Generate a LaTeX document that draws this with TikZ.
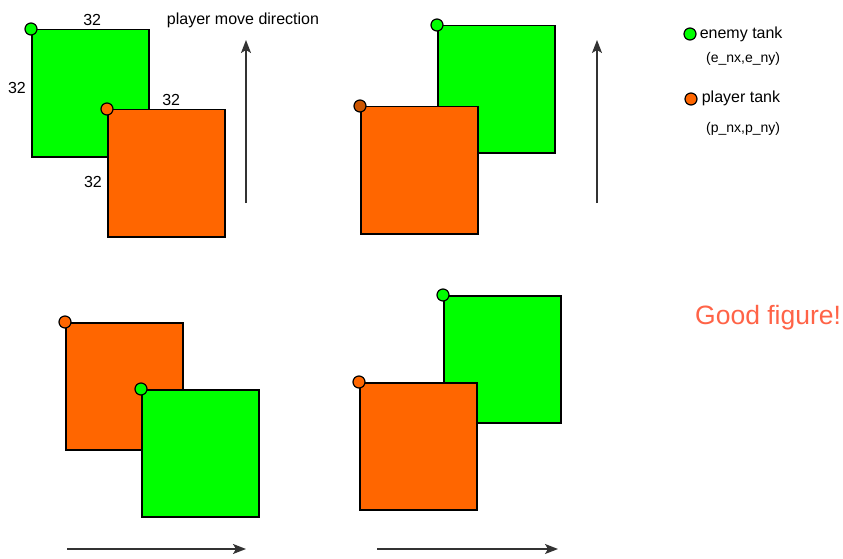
\documentclass[tikz,border=0pt]{standalone}
\usepackage{fontspec}
\setmainfont{Liberation Sans}
\usetikzlibrary{arrows.meta, positioning}
\definecolor{cEnemy}{HTML}{00FF00}
\definecolor{cPlayer}{HTML}{FF6600}
\definecolor{cPlayerDk}{HTML}{CC5500}
\definecolor{cGood}{HTML}{FF6347}

\begin{document}
\begin{tikzpicture}[x=1pt, y=-1pt,
  tank/.style={draw, line width=1.5pt, minimum width=117pt, minimum height=127pt, anchor=north west, inner sep=0pt},
  dot/.style={circle, draw, line width=1.2pt, minimum size=12pt, inner sep=0pt},
  lbl/.style={font=\fontsize{16}{18}\selectfont, inner sep=1pt},
  small/.style={font=\fontsize{14}{16}\selectfont, inner sep=1pt, anchor=west},
  arr/.style={-{Stealth[length=13pt, width=10pt, inset=3pt]}, line width=1.4pt, black!80}
]
\useasboundingbox (0,0) rectangle (843,559);

% top left
\node[tank, fill=cEnemy] (g1) at (31,29) {};
\node[tank, fill=cPlayer] (o1) at (107,109) {};
\node[dot, fill=cEnemy] (g1d) at (g1.north west) {};
\node[dot, fill=cPlayer] (o1d) at (o1.north west) {};
\node[lbl, above=2pt of g1.north, xshift=2pt] (w1) {32};
\node[lbl, left=4pt of g1.west, yshift=5pt] (h1) {32};
\node[lbl, above=2pt of o1.north, xshift=5pt] (w2) {32};
\node[lbl, left=4pt of o1.west, yshift=-9pt] (h2) {32};
\node[lbl] (dir) at (243,20) {player move direction};
\coordinate (u1a) at (246,203);
\coordinate (u1b) at (246,40);
\draw[arr] (u1a) -- (u1b);

% top right
\node[tank, fill=cEnemy] (g2) at (437,25) {};
\node[tank, fill=cPlayer] (o2) at (360,106) {};
\node[dot, fill=cEnemy] (g2d) at (g2.north west) {};
\node[dot, fill=cPlayerDk] (o2d) at (o2.north west) {};
\coordinate (u2a) at (597,203);
\coordinate (u2b) at (597,40);
\draw[arr] (u2a) -- (u2b);

% legend
\node[dot, fill=cEnemy] (le) at (690,34) {};
\node[lbl, anchor=west, right=2pt of le] (let) {enemy tank};
\node[small] (lec) at (705,59) {(e\_nx,e\_ny)};
\node[dot, fill=cPlayer] (lp) at (691,99) {};
\node[lbl, anchor=west, right=3pt of lp, yshift=1pt] (lpt) {player tank};
\node[small] (lpc) at (705,129) {(p\_nx,p\_ny)};

\node[font=\fontsize{26.5}{30}\selectfont, text=cGood, anchor=west, inner sep=0pt] (good) at (695,318) {Good figure!};

% bottom left
\node[tank, fill=cPlayer] (o3) at (65,322) {};
\node[tank, fill=cEnemy] (g3) at (141,389) {};
\node[dot, fill=cPlayer] (o3d) at (o3.north west) {};
\node[dot, fill=cEnemy] (g3d) at (g3.north west) {};
\coordinate (r1a) at (67,549);
\coordinate (r1b) at (246,549);
\draw[arr] (r1a) -- (r1b);

% bottom right
\node[tank, fill=cEnemy] (g4) at (443,295) {};
\node[tank, fill=cPlayer] (o4) at (359,382) {};
\node[dot, fill=cEnemy] (g4d) at (g4.north west) {};
\node[dot, fill=cPlayer] (o4d) at (o4.north west) {};
\coordinate (r2a) at (377,549);
\coordinate (r2b) at (558,549);
\draw[arr] (r2a) -- (r2b);
\end{tikzpicture}
\end{document}
